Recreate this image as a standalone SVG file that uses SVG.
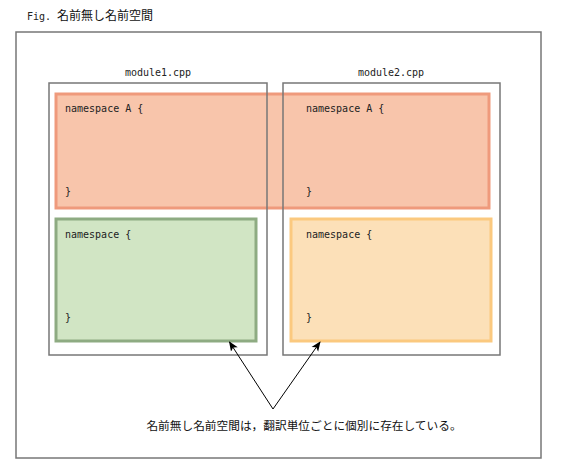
<svg xmlns="http://www.w3.org/2000/svg" width="563" height="476" viewBox="0 0 563 476">
<defs>
<style>
.mono{font-family:"DejaVu Sans Mono","Liberation Mono",monospace;font-size:10px;fill:#222}
.jp{font-family:"Noto Sans CJK JP","Noto Sans",sans-serif;fill:#111}
.frame{fill:none;stroke:#777;stroke-width:1.5}
</style>
<marker id="ah" viewBox="0 0 10 10" refX="9" refY="5" markerWidth="10" markerHeight="10" markerUnits="userSpaceOnUse" orient="auto">
<path d="M0,1 L10,5 L0,9 L2.5,5 Z" fill="#000"/>
</marker>
</defs>
<rect width="563" height="476" fill="#fff"/>
<g id="title"><text x="27" y="20" class="mono">Fig. <tspan class="jp" style="font-size:12px">名前無し名前空間</tspan></text></g>
<rect id="frame" x="16" y="32" width="525" height="426" class="frame"/>
<g id="nsA">
<rect x="56" y="94" width="433" height="114" fill="#F8C5AB" stroke="#EF9A7C" stroke-width="3"/>
<text x="65" y="112" class="mono">namespace A {</text>
<text x="65" y="195" class="mono">}</text>
<text x="306" y="112" class="mono">namespace A {</text>
<text x="306" y="195" class="mono">}</text>
</g>
<g id="module1">
<rect x="49" y="83" width="218" height="272" class="frame"/>
<text x="158" y="76" class="mono" text-anchor="middle">module1.cpp</text>
</g>
<g id="module2">
<rect x="283" y="83" width="217" height="272" class="frame"/>
<text x="391" y="76" class="mono" text-anchor="middle">module2.cpp</text>
</g>
<g id="ns1">
<rect x="56" y="219" width="200" height="122" fill="#D1E5C4" stroke="#8EAB82" stroke-width="3"/>
<text x="65" y="238" class="mono">namespace {</text>
<text x="65" y="321" class="mono">}</text>
</g>
<g id="ns2">
<rect x="291" y="219" width="200" height="122" fill="#FCE0B8" stroke="#FBC97F" stroke-width="3"/>
<text x="306" y="238" class="mono">namespace {</text>
<text x="306" y="321" class="mono">}</text>
</g>
<g id="connectors" stroke="#000" stroke-width="1" fill="none">
<line x1="273" y1="409" x2="229.5" y2="342" marker-end="url(#ah)"/>
<line x1="273" y1="409" x2="320" y2="342" marker-end="url(#ah)"/>
</g>
<g id="note"><text x="304" y="430" class="jp" style="font-size:11.7px" text-anchor="middle">名前無し名前空間は，翻訳単位ごとに個別に存在している。</text></g>
</svg>
